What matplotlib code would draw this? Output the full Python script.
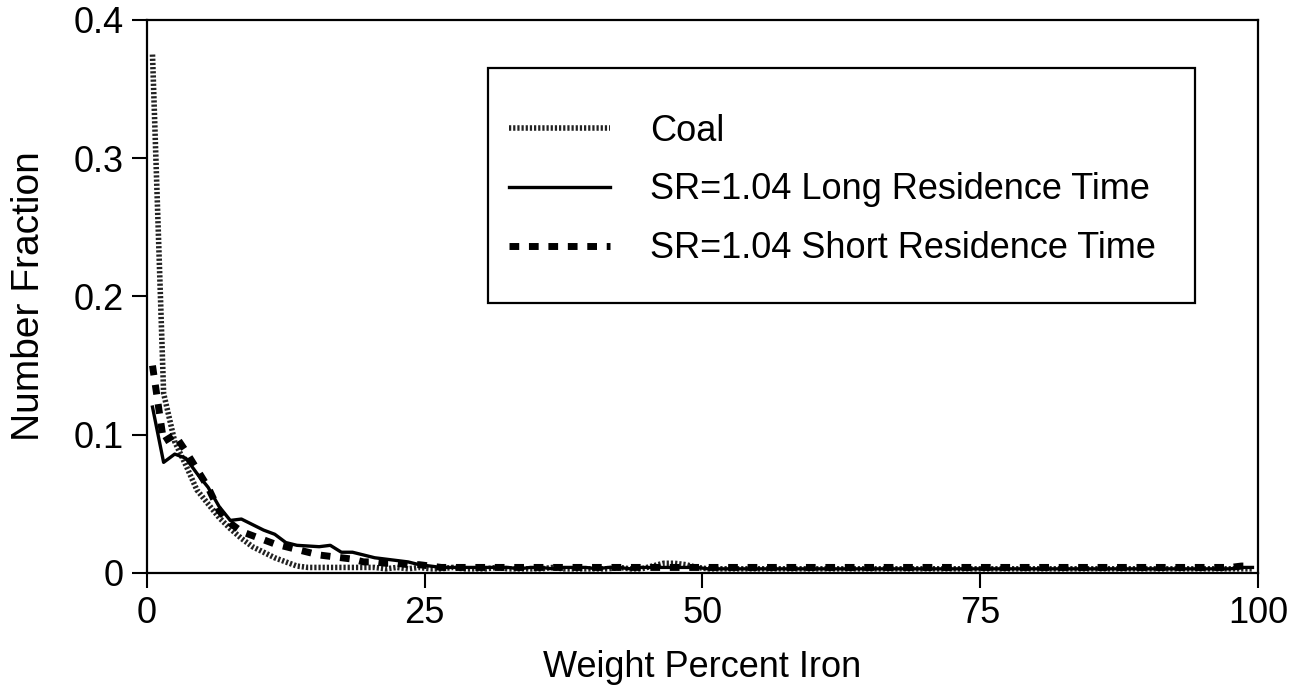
import matplotlib.pyplot as plt
from matplotlib.patches import Rectangle
import numpy as np

plt.rcParams['font.family'] = ['Liberation Sans', 'DejaVu Sans']

# bin centres, weight percent iron
weight_pct = np.arange(100) + 0.5

coal = [0.375, 0.130, 0.095, 0.078, 0.060, 0.050, 0.040, 0.032, 0.025, 0.019,
        0.015, 0.011, 0.008, 0.005, 0.004, 0.004, 0.004, 0.004, 0.004, 0.004,
        0.004, 0.003, 0.004, 0.003, 0.004, 0.003, 0.003, 0.004, 0.003, 0.003,
        0.003, 0.004, 0.003, 0.003, 0.003, 0.003, 0.004, 0.003, 0.003, 0.003,
        0.003, 0.003, 0.004, 0.003, 0.003, 0.005, 0.007, 0.007, 0.006, 0.004,
        0.003, 0.003, 0.003, 0.003, 0.003, 0.003, 0.003, 0.003, 0.003, 0.003,
        0.003, 0.003, 0.003, 0.003, 0.003, 0.003, 0.003, 0.003, 0.003, 0.003,
        0.003, 0.003, 0.003, 0.003, 0.003, 0.003, 0.003, 0.003, 0.003, 0.003,
        0.003, 0.003, 0.003, 0.003, 0.003, 0.003, 0.003, 0.003, 0.003, 0.003,
        0.003, 0.003, 0.003, 0.003, 0.003, 0.003, 0.003, 0.003, 0.003, 0.003]

long_rt = [0.120, 0.080, 0.086, 0.083, 0.072, 0.062, 0.048, 0.038, 0.039, 0.035,
           0.031, 0.028, 0.022, 0.020, 0.0195, 0.019, 0.020, 0.015, 0.015, 0.013,
           0.011, 0.010, 0.009, 0.008, 0.006, 0.005, 0.004, 0.004, 0.004, 0.004,
           0.004, 0.004, 0.004, 0.003, 0.004, 0.004, 0.003, 0.004, 0.004, 0.004,
           0.003, 0.004, 0.004, 0.003, 0.004, 0.004, 0.004, 0.004, 0.004, 0.004,
           0.003, 0.003, 0.003, 0.003, 0.003, 0.003, 0.003, 0.003, 0.003, 0.003,
           0.003, 0.003, 0.003, 0.003, 0.003, 0.003, 0.003, 0.003, 0.003, 0.003,
           0.003, 0.003, 0.003, 0.003, 0.003, 0.003, 0.003, 0.003, 0.003, 0.003,
           0.003, 0.003, 0.003, 0.003, 0.003, 0.003, 0.003, 0.003, 0.003, 0.003,
           0.003, 0.003, 0.003, 0.003, 0.003, 0.003, 0.003, 0.003, 0.004, 0.004]

short_rt = [0.150, 0.095, 0.100, 0.088, 0.075, 0.062, 0.045, 0.036, 0.030, 0.027,
            0.024, 0.021, 0.019, 0.017, 0.015, 0.013, 0.012, 0.011, 0.010, 0.008,
            0.008, 0.007, 0.007, 0.006, 0.006, 0.005, 0.004, 0.004, 0.004, 0.004,
            0.004, 0.004, 0.004, 0.004, 0.004, 0.004, 0.004, 0.004, 0.004, 0.004,
            0.004, 0.004, 0.004, 0.004, 0.004, 0.004, 0.004, 0.004, 0.004, 0.004,
            0.004, 0.004, 0.004, 0.004, 0.004, 0.004, 0.004, 0.004, 0.004, 0.004,
            0.004, 0.004, 0.004, 0.004, 0.004, 0.004, 0.004, 0.004, 0.004, 0.004,
            0.004, 0.004, 0.004, 0.004, 0.004, 0.004, 0.004, 0.004, 0.004, 0.004,
            0.004, 0.004, 0.004, 0.004, 0.004, 0.004, 0.004, 0.004, 0.004, 0.004,
            0.004, 0.004, 0.004, 0.004, 0.004, 0.004, 0.004, 0.004, 0.005, 0.005]

x_ticks = [0, 25, 50, 75, 100]
y_ticks = [0, 0.1, 0.2, 0.3, 0.4]
y_tick_labels = ['0', '0.1', '0.2', '0.3', '0.4']

fig = plt.figure(figsize=(13.05, 6.94), dpi=100)
ax = fig.add_axes([0.1126, 0.1744, 0.8514, 0.7968])

ax.plot(weight_pct, coal, color='#222222', lw=4, linestyle=(0, (0.4, 0.35)),
        label='Coal')
ax.plot(weight_pct, long_rt, color='black', lw=2.4, label='SR=1.04 Long Residence Time')
ax.plot(weight_pct, short_rt, color='black', lw=5, linestyle=(0, (1.4, 1.4)),
        label='SR=1.04 Short Residence Time')

ax.set_xlim(0, 100)
ax.set_ylim(0, 0.4)
ax.set_xticks(x_ticks)
ax.set_yticks(y_ticks)
ax.set_yticklabels(y_tick_labels)
ax.tick_params(direction='out', length=10.5, width=1.5, labelsize=26, pad=6)
for s in ax.spines.values():
    s.set_linewidth(1.6)

ax.set_xlabel('Weight Percent Iron', fontsize=26, labelpad=14)
ax.set_ylabel('Number Fraction', fontsize=28, labelpad=19)

# legend box drawn separately so its padding can match the original
ax.add_patch(Rectangle((0.307, 0.488), 0.636, 0.425, transform=ax.transAxes,
                       fill=True, facecolor='white', edgecolor='black',
                       lw=1.6, zorder=4))
leg = ax.legend(loc='center left', bbox_to_anchor=(0.326, 0.6926), fontsize=26,
                handlelength=2.8, handletextpad=1.1, labelspacing=0.66,
                borderpad=0, borderaxespad=0, frameon=False)
leg.set_zorder(5)

fig.savefig('out.png', dpi=100)
